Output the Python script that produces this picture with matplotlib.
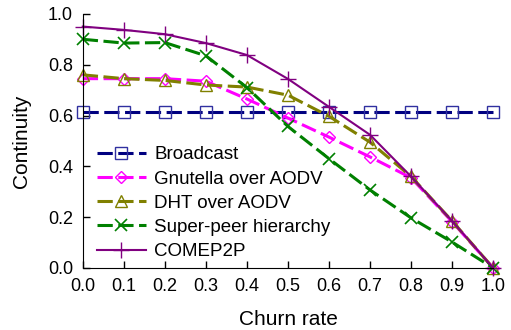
import matplotlib
matplotlib.use('Agg')
import matplotlib.pyplot as plt

plt.rcParams['font.family'] = ['Liberation Sans', 'DejaVu Sans']

churn = [0.0, 0.1, 0.2, 0.3, 0.4, 0.5, 0.6, 0.7, 0.8, 0.9, 1.0]

broadcast = [0.615, 0.615, 0.615, 0.615, 0.615, 0.615, 0.615, 0.615, 0.615, 0.615, 0.615]
gnutella = [0.745, 0.745, 0.745, 0.735, 0.665, 0.59, 0.515, 0.437, 0.355, 0.182, 0.0]
dht = [0.76, 0.745, 0.738, 0.72, 0.712, 0.68, 0.597, 0.495, 0.36, 0.185, 0.0]
superpeer = [0.90, 0.885, 0.887, 0.835, 0.71, 0.557, 0.43, 0.307, 0.197, 0.102, 0.0]
comep2p = [0.95, 0.937, 0.92, 0.885, 0.838, 0.744, 0.634, 0.524, 0.36, 0.185, 0.0]

fig = plt.figure(figsize=(5.11, 3.30), dpi=100)
ax = fig.add_axes([0.162, 0.188, 0.803, 0.770])

dash = (5, 1.8)
ax.plot(churn, broadcast, color='#000080', lw=2.2, dashes=dash, marker='s', ms=8,
        mfc='none', mec='#3030a0', mew=1.0, label='Broadcast', clip_on=False)
ax.plot(churn, gnutella, color='#ff00ff', lw=2.2, dashes=dash, marker='D', ms=6.5,
        mfc='none', mec='#ff00ff', mew=1.0, label='Gnutella over AODV', clip_on=False)
ax.plot(churn, dht, color='#808000', lw=2.2, dashes=dash, marker='^', ms=9,
        mfc='none', mec='#808000', mew=1.0, label='DHT over AODV', clip_on=False)
ax.plot(churn, superpeer, color='#008000', lw=2.2, dashes=dash, marker='x', ms=9,
        mec='#008000', mew=1.2, label='Super-peer hierarchy', clip_on=False)
ax.plot(churn, comep2p, color='#800080', lw=1.5, marker='+', ms=11,
        mew=1.0, label='COMEP2P', clip_on=False)

ax.set_xlim(0, 1.0)
ax.set_ylim(0, 1.0)
ax.set_xticks(churn)
ax.set_xticklabels(['%.1f' % c for c in churn])
ax.set_yticks([0.0, 0.2, 0.4, 0.6, 0.8, 1.0])
ax.set_yticklabels(['0.0', '0.2', '0.4', '0.6', '0.8', '1.0'])
ax.tick_params(direction='in', length=5, width=1, labelsize=13, pad=7)
ax.spines['top'].set_visible(False)
ax.spines['right'].set_visible(False)

ax.set_xlabel('Churn rate', fontsize=15, labelpad=11)
ax.set_ylabel('Continuity', fontsize=15, labelpad=12)

ax.legend(loc='lower left', bbox_to_anchor=(0.0, -0.025), frameon=False, fontsize=13.5,
          handlelength=2.6, labelspacing=0.38, handletextpad=0.45, borderaxespad=0.35)

fig.savefig('out.png', dpi=100)
